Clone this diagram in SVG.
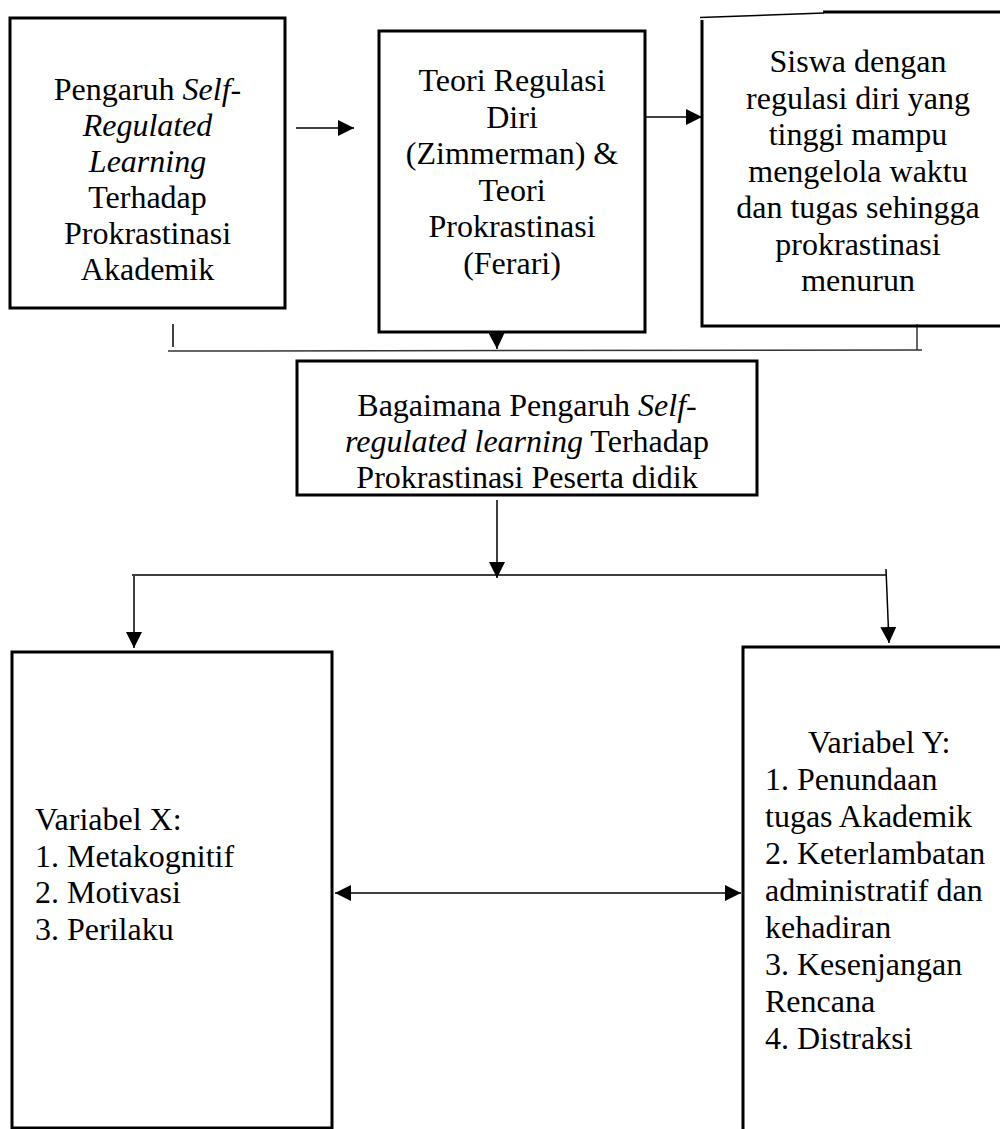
<svg xmlns="http://www.w3.org/2000/svg" width="1000" height="1129" viewBox="0 0 1000 1129">
<defs>
<style>
.box{fill:#fff;stroke:#000;stroke-width:3}
.ln{fill:none;stroke:#000;stroke-width:1.5}
.lg{fill:none;stroke:#333;stroke-width:1.5}
text{font-family:"Liberation Serif","Times New Roman",serif;font-size:32px;fill:#000}
.c{text-anchor:middle}
.i{font-style:italic}
</style>
<marker id="ah" markerUnits="userSpaceOnUse" markerWidth="16" markerHeight="16" viewBox="0 0 16 16" refX="16" refY="8" orient="auto">
<path d="M0,0 L16,8 L0,16 Z" fill="#000"/>
</marker>
<marker id="ahs" markerUnits="userSpaceOnUse" markerWidth="16" markerHeight="16" viewBox="0 0 16 16" refX="16" refY="8" orient="auto-start-reverse">
<path d="M0,0 L16,8 L0,16 Z" fill="#000"/>
</marker>
</defs>
<rect width="1000" height="1129" fill="#fff"/>

<g id="connectors">
<line class="ln" x1="296" y1="128" x2="354" y2="128" marker-end="url(#ah)"/>
<line class="ln" x1="646" y1="117" x2="702" y2="117" marker-end="url(#ah)"/>
<line class="ln" x1="496" y1="312" x2="497" y2="349" marker-end="url(#ah)"/>
<line class="lg" x1="168" y1="351" x2="922" y2="350"/>
<line class="ln" x1="173" y1="324" x2="173" y2="347"/>
<line class="lg" x1="917" y1="324" x2="917" y2="350"/>
<line class="ln" x1="497" y1="500" x2="497" y2="578" marker-end="url(#ah)"/>
<line class="ln" x1="132" y1="575" x2="886" y2="575"/>
<line class="ln" x1="134" y1="576" x2="134" y2="648" marker-end="url(#ah)"/>
<line class="ln" x1="886" y1="569" x2="889" y2="643" marker-end="url(#ah)"/>
<line class="ln" x1="335" y1="893" x2="741" y2="893" marker-start="url(#ahs)" marker-end="url(#ah)"/>
</g>

<g id="node1">
<rect class="box" x="10" y="18" width="275" height="290"/>
<text class="c" x="147.5" y="100">Pengaruh <tspan class="i">Self-</tspan></text>
<text class="c i" x="147.5" y="136">Regulated</text>
<text class="c i" x="147.5" y="172">Learning</text>
<text class="c" x="147.5" y="208">Terhadap</text>
<text class="c" x="147.5" y="244">Prokrastinasi</text>
<text class="c" x="147.5" y="280">Akademik</text>
</g>

<g id="node2">
<rect class="box" x="379" y="31" width="266" height="301"/>
<text class="c" x="512" y="91">Teori Regulasi</text>
<text class="c" x="512" y="127.5">Diri</text>
<text class="c" x="512" y="164">(Zimmerman) &amp;</text>
<text class="c" x="512" y="200.5">Teori</text>
<text class="c" x="512" y="237">Prokrastinasi</text>
<text class="c" x="512" y="273.5">(Ferari)</text>
</g>

<g id="node3">
<path d="M702,20 L702,326 L1002,326" fill="none" stroke="#000" stroke-width="3"/>
<line x1="700" y1="17.5" x2="824" y2="13" stroke="#000" stroke-width="1.5"/>
<line x1="823" y1="12" x2="1002" y2="12" stroke="#000" stroke-width="3"/>
<text class="c" x="858" y="72">Siswa dengan</text>
<text class="c" x="858" y="108.5">regulasi diri yang</text>
<text class="c" x="858" y="145">tinggi mampu</text>
<text class="c" x="858" y="181.5">mengelola waktu</text>
<text class="c" x="858" y="218">dan tugas sehingga</text>
<text class="c" x="858" y="254.5">prokrastinasi</text>
<text class="c" x="858" y="291">menurun</text>
</g>

<g id="node4">
<rect class="box" x="297" y="361" width="460" height="134"/>
<text class="c" x="527" y="416">Bagaimana Pengaruh <tspan class="i">Self-</tspan></text>
<text class="c" x="527" y="452"><tspan class="i">regulated learning</tspan> Terhadap</text>
<text class="c" x="527" y="488">Prokrastinasi Peserta didik</text>
</g>

<g id="node5">
<rect class="box" x="12" y="652" width="320" height="476"/>
<text x="35" y="830">Variabel X:</text>
<text x="35" y="866.5">1. Metakognitif</text>
<text x="35" y="903">2. Motivasi</text>
<text x="35" y="939.5">3. Perilaku</text>
</g>

<g id="node6">
<rect class="box" x="743" y="647" width="270" height="500"/>
<text x="808" y="753">Variabel Y:</text>
<text x="765" y="790">1. Penundaan</text>
<text x="765" y="827">tugas Akademik</text>
<text x="765" y="864">2. Keterlambatan</text>
<text x="765" y="901">administratif dan</text>
<text x="765" y="938">kehadiran</text>
<text x="765" y="975">3. Kesenjangan</text>
<text x="765" y="1012">Rencana</text>
<text x="765" y="1049">4. Distraksi</text>
</g>
</svg>
